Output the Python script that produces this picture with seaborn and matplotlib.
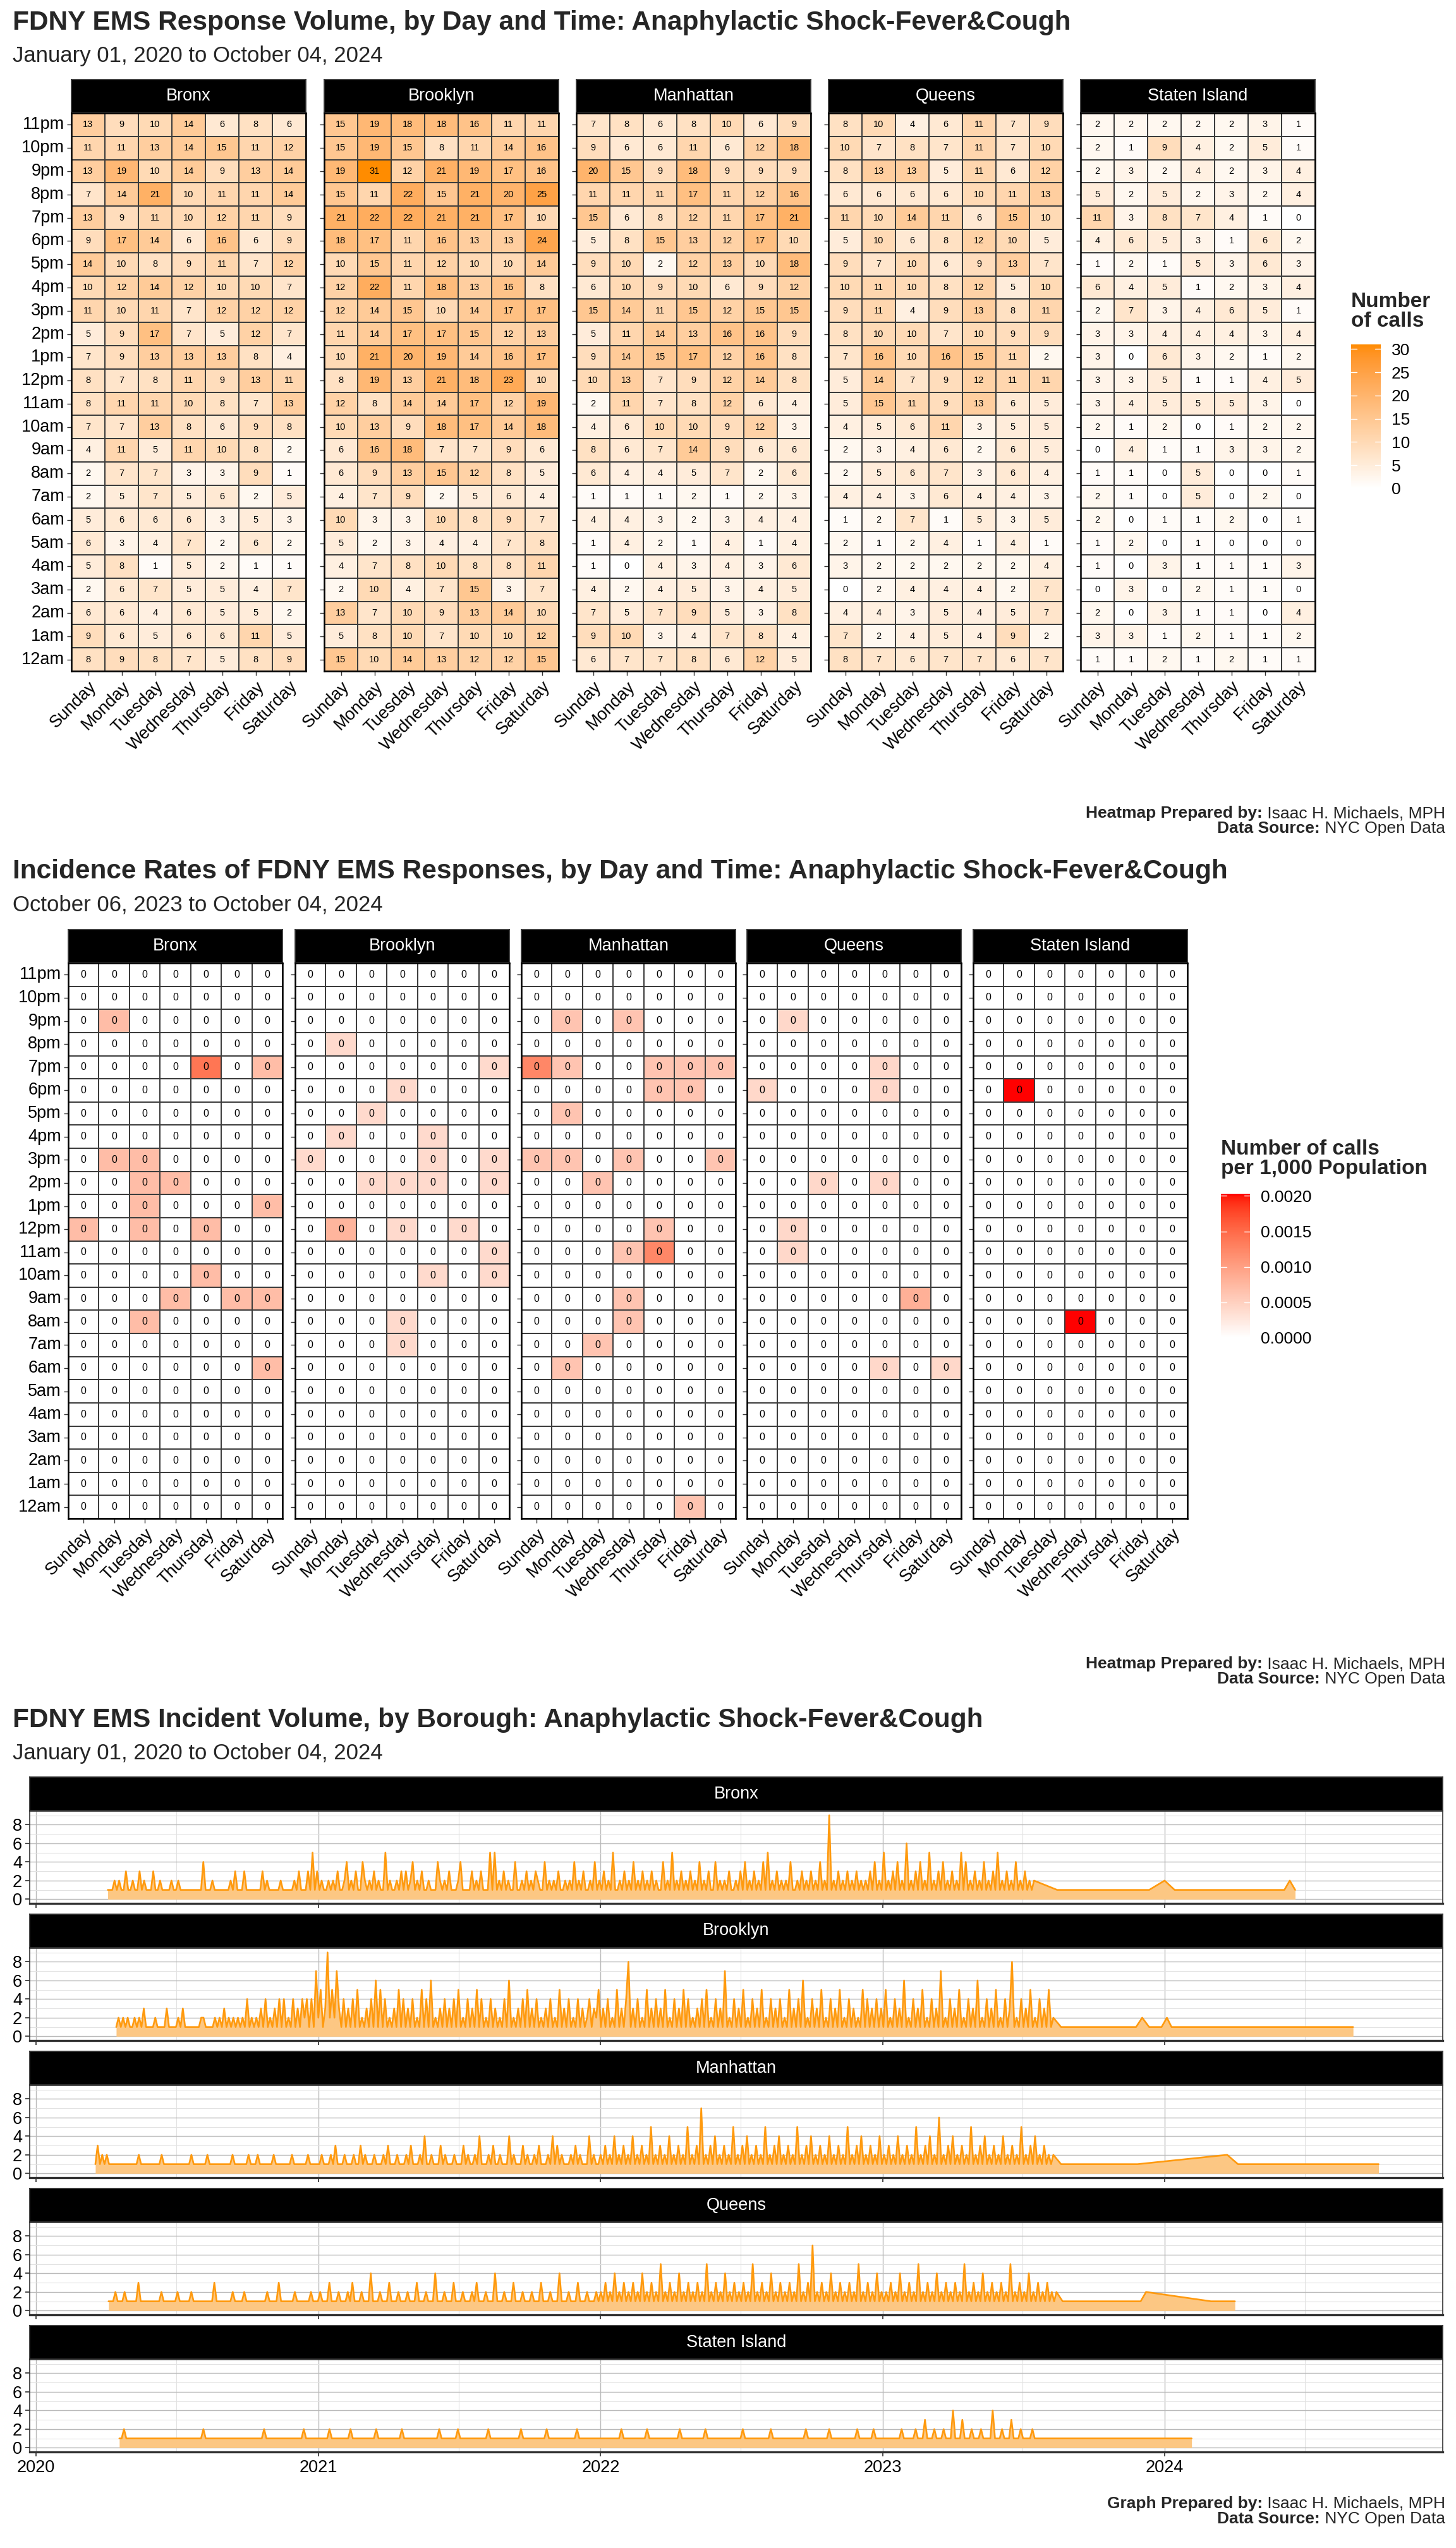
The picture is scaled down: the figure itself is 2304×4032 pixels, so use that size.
import numpy as np
import pandas as pd
import matplotlib
matplotlib.use('Agg')
import matplotlib.pyplot as plt
import matplotlib.dates as mdates
import seaborn as sns
from matplotlib.colors import ListedColormap, Normalize
from matplotlib.cm import ScalarMappable

sns.set_theme(style='white')
plt.rcParams['font.family'] = ['Liberation Sans', 'DejaVu Sans']

W, H = 2304, 4032

BOROUGHS = ['Bronx', 'Brooklyn', 'Manhattan', 'Queens', 'Staten Island']
DAYS = ['Sunday', 'Monday', 'Tuesday', 'Wednesday', 'Thursday', 'Friday', 'Saturday']
HOURS = ['11pm', '10pm', '9pm', '8pm', '7pm', '6pm', '5pm', '4pm', '3pm', '2pm', '1pm', '12pm',
         '11am', '10am', '9am', '8am', '7am', '6am', '5am', '4am', '3am', '2am', '1am', '12am']

# calls, January 01 2020 to October 04 2024 (rows 11pm -> 12am, cols Sunday -> Saturday)
BRONX_CALLS = [
    [13, 9, 10, 14, 6, 8, 6], [11, 11, 13, 14, 15, 11, 12], [13, 19, 10, 14, 9, 13, 14],
    [7, 14, 21, 10, 11, 11, 14], [13, 9, 11, 10, 12, 11, 9], [9, 17, 14, 6, 16, 6, 9],
    [14, 10, 8, 9, 11, 7, 12], [10, 12, 14, 12, 10, 10, 7], [11, 10, 11, 7, 12, 12, 12],
    [5, 9, 17, 7, 5, 12, 7], [7, 9, 13, 13, 13, 8, 4], [8, 7, 8, 11, 9, 13, 11],
    [8, 11, 11, 10, 8, 7, 13], [7, 7, 13, 8, 6, 9, 8], [4, 11, 5, 11, 10, 8, 2],
    [2, 7, 7, 3, 3, 9, 1], [2, 5, 7, 5, 6, 2, 5], [5, 6, 6, 6, 3, 5, 3],
    [6, 3, 4, 7, 2, 6, 2], [5, 8, 1, 5, 2, 1, 1], [2, 6, 7, 5, 5, 4, 7],
    [6, 6, 4, 6, 5, 5, 2], [9, 6, 5, 6, 6, 11, 5], [8, 9, 8, 7, 5, 8, 9]]
BROOKLYN_CALLS = [
    [15, 19, 18, 18, 16, 11, 11], [15, 19, 15, 8, 11, 14, 16], [19, 31, 12, 21, 19, 17, 16],
    [15, 11, 22, 15, 21, 20, 25], [21, 22, 22, 21, 21, 17, 10], [18, 17, 11, 16, 13, 13, 24],
    [10, 15, 11, 12, 10, 10, 14], [12, 22, 11, 18, 13, 16, 8], [12, 14, 15, 10, 14, 17, 17],
    [11, 14, 17, 17, 15, 12, 13], [10, 21, 20, 19, 14, 16, 17], [8, 19, 13, 21, 18, 23, 10],
    [12, 8, 14, 14, 17, 12, 19], [10, 13, 9, 18, 17, 14, 18], [6, 16, 18, 7, 7, 9, 6],
    [6, 9, 13, 15, 12, 8, 5], [4, 7, 9, 2, 5, 6, 4], [10, 3, 3, 10, 8, 9, 7],
    [5, 2, 3, 4, 4, 7, 8], [4, 7, 8, 10, 8, 8, 11], [2, 10, 4, 7, 15, 3, 7],
    [13, 7, 10, 9, 13, 14, 10], [5, 8, 10, 7, 10, 10, 12], [15, 10, 14, 13, 12, 12, 15]]
MANHATTAN_CALLS = [
    [7, 8, 6, 8, 10, 6, 9], [9, 6, 6, 11, 6, 12, 18], [20, 15, 9, 18, 9, 9, 9],
    [11, 11, 11, 17, 11, 12, 16], [15, 6, 8, 12, 11, 17, 21], [5, 8, 15, 13, 12, 17, 10],
    [9, 10, 2, 12, 13, 10, 18], [6, 10, 9, 10, 6, 9, 12], [15, 14, 11, 15, 12, 15, 15],
    [5, 11, 14, 13, 16, 16, 9], [9, 14, 15, 17, 12, 16, 8], [10, 13, 7, 9, 12, 14, 8],
    [2, 11, 7, 8, 12, 6, 4], [4, 6, 10, 10, 9, 12, 3], [8, 6, 7, 14, 9, 6, 6],
    [6, 4, 4, 5, 7, 2, 6], [1, 1, 1, 2, 1, 2, 3], [4, 4, 3, 2, 3, 4, 4],
    [1, 4, 2, 1, 4, 1, 4], [1, 0, 4, 3, 4, 3, 6], [4, 2, 4, 5, 3, 4, 5],
    [7, 5, 7, 9, 5, 3, 8], [9, 10, 3, 4, 7, 8, 4], [6, 7, 7, 8, 6, 12, 5]]
QUEENS_CALLS = [
    [8, 10, 4, 6, 11, 7, 9], [10, 7, 8, 7, 11, 7, 10], [8, 13, 13, 5, 11, 6, 12],
    [6, 6, 6, 6, 10, 11, 13], [11, 10, 14, 11, 6, 15, 10], [5, 10, 6, 8, 12, 10, 5],
    [9, 7, 10, 6, 9, 13, 7], [10, 11, 10, 8, 12, 5, 10], [9, 11, 4, 9, 13, 8, 11],
    [8, 10, 10, 7, 10, 9, 9], [7, 16, 10, 16, 15, 11, 2], [5, 14, 7, 9, 12, 11, 11],
    [5, 15, 11, 9, 13, 6, 5], [4, 5, 6, 11, 3, 5, 5], [2, 3, 4, 6, 2, 6, 5],
    [2, 5, 6, 7, 3, 6, 4], [4, 4, 3, 6, 4, 4, 3], [1, 2, 7, 1, 5, 3, 5],
    [2, 1, 2, 4, 1, 4, 1], [3, 2, 2, 2, 2, 2, 4], [0, 2, 4, 4, 4, 2, 7],
    [4, 4, 3, 5, 4, 5, 7], [7, 2, 4, 5, 4, 9, 2], [8, 7, 6, 7, 7, 6, 7]]
STATEN_CALLS = [
    [2, 2, 2, 2, 2, 3, 1], [2, 1, 9, 4, 2, 5, 1], [2, 3, 2, 4, 2, 3, 4],
    [5, 2, 5, 2, 3, 2, 4], [11, 3, 8, 7, 4, 1, 0], [4, 6, 5, 3, 1, 6, 2],
    [1, 2, 1, 5, 3, 6, 3], [6, 4, 5, 1, 2, 3, 4], [2, 7, 3, 4, 6, 5, 1],
    [3, 3, 4, 4, 4, 3, 4], [3, 0, 6, 3, 2, 1, 2], [3, 3, 5, 1, 1, 4, 5],
    [3, 4, 5, 5, 5, 3, 0], [2, 1, 2, 0, 1, 2, 2], [0, 4, 1, 1, 3, 3, 2],
    [1, 1, 0, 5, 0, 0, 1], [2, 1, 0, 5, 0, 2, 0], [2, 0, 1, 1, 2, 0, 1],
    [1, 2, 0, 1, 0, 0, 0], [1, 0, 3, 1, 1, 1, 3], [0, 3, 0, 2, 1, 1, 0],
    [2, 0, 3, 1, 1, 0, 4], [3, 3, 1, 2, 1, 1, 2], [1, 1, 2, 1, 2, 1, 1]]

# calls per 1,000 population, October 06 2023 to October 04 2024 (non-zero cells only)
BRONX_RATES = [('9pm', 'Monday', 0.0007), ('7pm', 'Thursday', 0.0014), ('7pm', 'Saturday', 0.0007),
               ('3pm', 'Monday', 0.0007), ('3pm', 'Tuesday', 0.0007), ('2pm', 'Tuesday', 0.0007),
               ('2pm', 'Wednesday', 0.0007), ('1pm', 'Tuesday', 0.0007), ('1pm', 'Saturday', 0.0007),
               ('12pm', 'Sunday', 0.0007), ('12pm', 'Tuesday', 0.0007), ('12pm', 'Thursday', 0.0007),
               ('10am', 'Thursday', 0.0007), ('9am', 'Wednesday', 0.0007), ('9am', 'Friday', 0.0007),
               ('9am', 'Saturday', 0.0007), ('8am', 'Tuesday', 0.0007), ('6am', 'Saturday', 0.0007)]
BROOKLYN_RATES = [('8pm', 'Monday', 0.00039), ('7pm', 'Saturday', 0.00039), ('6pm', 'Wednesday', 0.00039),
                  ('5pm', 'Tuesday', 0.00039), ('4pm', 'Monday', 0.00039), ('4pm', 'Thursday', 0.00039),
                  ('3pm', 'Sunday', 0.00039), ('3pm', 'Thursday', 0.00039), ('3pm', 'Saturday', 0.00039),
                  ('2pm', 'Tuesday', 0.00039), ('2pm', 'Wednesday', 0.00039), ('2pm', 'Thursday', 0.00039),
                  ('2pm', 'Saturday', 0.00039), ('12pm', 'Monday', 0.00078), ('12pm', 'Wednesday', 0.00039),
                  ('12pm', 'Friday', 0.00039), ('11am', 'Saturday', 0.00039), ('10am', 'Thursday', 0.00039),
                  ('10am', 'Saturday', 0.00039), ('8am', 'Wednesday', 0.00039), ('7am', 'Wednesday', 0.00039)]
MANHATTAN_RATES = [('9pm', 'Monday', 0.00062), ('9pm', 'Wednesday', 0.00062), ('7pm', 'Sunday', 0.00124),
                   ('7pm', 'Monday', 0.00062), ('7pm', 'Thursday', 0.00062), ('7pm', 'Friday', 0.00062),
                   ('7pm', 'Saturday', 0.00062), ('6pm', 'Thursday', 0.00062), ('6pm', 'Friday', 0.00062),
                   ('5pm', 'Monday', 0.00062), ('3pm', 'Sunday', 0.00062), ('3pm', 'Monday', 0.00062),
                   ('3pm', 'Wednesday', 0.00062), ('3pm', 'Saturday', 0.00062), ('2pm', 'Tuesday', 0.00062),
                   ('12pm', 'Thursday', 0.00062), ('11am', 'Wednesday', 0.00062), ('11am', 'Thursday', 0.00124),
                   ('9am', 'Wednesday', 0.00062), ('8am', 'Wednesday', 0.00062), ('7am', 'Tuesday', 0.00062),
                   ('6am', 'Monday', 0.00062), ('12am', 'Friday', 0.00062)]
QUEENS_RATES = [('9pm', 'Monday', 0.00042), ('7pm', 'Thursday', 0.00042), ('6pm', 'Sunday', 0.00042),
                ('6pm', 'Thursday', 0.00042), ('2pm', 'Tuesday', 0.00042), ('2pm', 'Thursday', 0.00042),
                ('12pm', 'Monday', 0.00042), ('11am', 'Monday', 0.00042), ('9am', 'Friday', 0.00084),
                ('6am', 'Thursday', 0.00042), ('6am', 'Saturday', 0.00042)]
STATEN_RATES = [('6pm', 'Monday', 0.00203), ('8am', 'Wednesday', 0.00203)]

# daily incident volume, one digit per reading, spread from start to end date, then sparse later points
BRONX_SPAN = ('2020-04-03', '2023-07-16')
BRONX_DAILY = ("11121211311211312111311211112112111111111141112111111121311131111111312111112111112131113"
               "15131211212131124121311421213121151211213131241213112111421213111241111312131115151213121141121312132114121213112121412131"
               "12141213121511213121412131213121141215121312131214121311412121311213141213121415121312121411213121312141219121312131213121"
               "213141215121314121612131412151213141213121514121312141213151213121412131212")
BRONX_LATE = [('2023-08-15', 1), ('2023-12-12', 1), ('2024-01-01', 2), ('2024-01-14', 1),
              ('2024-06-04', 1), ('2024-06-11', 2), ('2024-06-18', 1)]

BROOKLYN_SPAN = ('2020-04-14', '2023-08-10')
BROOKLYN_DAILY = ("1212121121213111121111311112131111111221111212131212121214121213141213141412141314"
                  "2414172513925273141314151213141615141213151413141215141612131413141512141315141214131214161213141513141213141215131412141312"
                  "4132513141215131481314121513141315121413151412131415121413171214131512141315121413141215131416121413151214131512141312151413"
                  "1413151214131612141315121413171214131512141316121413151214138121413151214131512")
BROOKLYN_LATE = [('2023-08-20', 1), ('2023-11-25', 1), ('2023-12-03', 2), ('2023-12-12', 1),
                 ('2023-12-28', 1), ('2024-01-04', 2), ('2024-01-10', 1), ('2024-09-01', 1)]

MANHATTAN_SPAN = ('2020-03-18', '2023-08-10')
MANHATTAN_DAILY = ("1312121111111111111211111111121111111111112111111211111111112111111211121111112111111121111112111"
                   "1121112131112111211312111211121311121112131112141121113121112111312112141112131121114121113121121311121413121112131211141211"
                   "2131214121312141213121512131214121312151213171213141213121512131412131215121314121312151213141213121412131215121314121312141"
                   "213121412131215121314121612131412131215121314121312141213121512131412131212")
MANHATTAN_LATE = [('2023-08-20', 1), ('2023-11-27', 1), ('2024-03-22', 2), ('2024-04-05', 1),
                  ('2024-10-04', 1)]

QUEENS_SPAN = ('2020-04-04', '2023-08-14')
QUEENS_DAILY = ("111211121111131111111112111111211111211111111131111111211112111111111211113111111211111121"
                "1121113111211121311121114111211131112111211131112111411121113111211121311121114111211131112111211131112111411121113111211121"
                "2131214121312131214121312151213121412131213121512131214121312131215121312141213121312151213171213121412131213121512131214121"
                "213121412131215121312141213121312151213121412131213121512131214121312131212")
QUEENS_LATE = [('2023-08-22', 1), ('2023-12-01', 1), ('2023-12-08', 2), ('2024-03-01', 1), ('2024-04-01', 1)]

STATEN_SPAN = ('2020-04-18', '2023-08-01')
STATEN_DAILY = ("1121111111111111111111111111111111112111111111111111111111111121111111111111111211111"
                "1111121111111121111111111211111111112111111111111111211111112111111111111211111111111112111111111121111111111112111111111111"
                "1111112111111111121111111111111211111111112111111111111111211111111111211111111111111211111111121111111111121111112111111111"
                "11211111211131112111211141113111211121111411121113111211112111111")
STATEN_LATE = [('2024-02-05', 1)]

TITLE1 = 'FDNY EMS Response Volume, by Day and Time: Anaphylactic Shock-Fever&Cough'
SUB1 = 'January 01, 2020 to October 04, 2024'
TITLE2 = 'Incidence Rates of FDNY EMS Responses, by Day and Time: Anaphylactic Shock-Fever&Cough'
SUB2 = 'October 06, 2023 to October 04, 2024'
TITLE3 = 'FDNY EMS Incident Volume, by Borough: Anaphylactic Shock-Fever&Cough'
SUB3 = 'January 01, 2020 to October 04, 2024'

AXIS_SIZE = 19.5


def srgb_to_lab(rgb):
    c = np.asarray(rgb, float)
    c = np.where(c <= 0.04045, c / 12.92, ((c + 0.055) / 1.055) ** 2.4)
    m = np.array([[0.4124, 0.3576, 0.1805], [0.2126, 0.7152, 0.0722], [0.0193, 0.1192, 0.9505]])
    xyz = m @ c / np.array([0.95047, 1.0, 1.08883])
    f = np.where(xyz > 0.008856, np.cbrt(xyz), 7.787 * xyz + 16 / 116)
    return np.array([116 * f[1] - 16, 500 * (f[0] - f[1]), 200 * (f[1] - f[2])])


def lab_to_srgb(lab):
    fy = (lab[..., 0] + 16) / 116
    fx = fy + lab[..., 1] / 500
    fz = fy - lab[..., 2] / 200
    f = np.stack([fx, fy, fz], -1)
    xyz = np.where(f > 0.2069, f ** 3, (f - 16 / 116) / 7.787) * np.array([0.95047, 1.0, 1.08883])
    m = np.array([[3.2406, -1.5372, -0.4986], [-0.9689, 1.8758, 0.0415], [0.0557, -0.2040, 1.0570]])
    c = np.clip(xyz @ m.T, 0, 1)
    c = np.where(c <= 0.0031308, 12.92 * c, 1.055 * c ** (1 / 2.4) - 0.055)
    return np.clip(c, 0, 1)


def white_to(rgb):
    # ggplot-style gradient (interpolated in Lab)
    lo, hi = srgb_to_lab([1, 1, 1]), srgb_to_lab(rgb)
    t = np.linspace(0, 1, 256)[:, None]
    return ListedColormap(lab_to_srgb(lo + t * (hi - lo)))


ORANGES = white_to([1.0, 140 / 255, 0.0])
REDS = white_to([1.0, 0.0, 0.0])


def px_axes(fig, x0, y0, x1, y1):
    return fig.add_axes([x0 / W, 1 - y1 / H, (x1 - x0) / W, (y1 - y0) / H])


def strip(fig, x0, y0, x1, y1, label):
    ax = px_axes(fig, x0, y0, x1, y1)
    ax.set_facecolor('black')
    ax.set_xticks([])
    ax.set_yticks([])
    for s in ax.spines.values():
        s.set_color('#333333')
    ax.text(0.5, 0.5, label, color='white', fontsize=19.5, ha='center', va='center', transform=ax.transAxes)


def heat_panels(fig, frames, lefts, width, top, bottom, cmap, vmax, fmt, annot_size):
    for i, (name, df) in enumerate(frames):
        x0 = lefts[i]
        strip(fig, x0, top - 53, x0 + width, top - 1, name)
        ax = px_axes(fig, x0, top, x0 + width, bottom)
        sns.heatmap(df, ax=ax, cmap=cmap, vmin=0, vmax=vmax, annot=True, fmt=fmt,
                    annot_kws={'fontsize': annot_size, 'color': 'black'},
                    linewidths=1.1, linecolor='#3c3c3c', cbar=False)
        ax.set_xlabel('')
        ax.set_ylabel('')
        for s in ax.spines.values():
            s.set_visible(True)
            s.set_color('black')
            s.set_linewidth(1.8)
        ax.tick_params(left=True, bottom=True, length=5, width=1, color='#333333', labelsize=AXIS_SIZE,
                       labelcolor='black', pad=3)
        ax.set_xticklabels(DAYS, rotation=45, ha='right', rotation_mode='anchor')
        if i == 0:
            ax.set_yticklabels(HOURS, rotation=0)
        else:
            ax.set_yticklabels([])


def colorbar(fig, box, cmap, vmax, ticks, fmt, title, title_x, title_y):
    cax = px_axes(fig, *box)
    cb = fig.colorbar(ScalarMappable(norm=Normalize(0, vmax), cmap=cmap), cax=cax)
    cb.outline.set_visible(False)
    cb.set_ticks(ticks)
    cb.set_ticklabels([fmt.format(t) for t in ticks])
    cax.tick_params(length=0, pad=12, labelsize=19, labelcolor='black')
    trans = cax.get_yaxis_transform()
    for t in ticks:
        cax.plot([0, 0.2], [t, t], color='white', lw=1, transform=trans)
        cax.plot([0.8, 1], [t, t], color='white', lw=1, transform=trans)
    fig.text(title_x / W, 1 - title_y / H, title, fontsize=24, fontweight='bold', va='top',
             linespacing=1.0)


def footer(fig, y, who):
    r = fig.canvas.get_renderer()
    right = 2287 / W
    for dy, bold, rest in [(0, who, ' Isaac H. Michaels, MPH'), (24, 'Data Source:', ' NYC Open Data')]:
        t = fig.text(right, 1 - (y + dy) / H, rest, fontsize=19, ha='right', va='center')
        w = t.get_window_extent(r).width / W
        fig.text(right - w, 1 - (y + dy) / H, bold, fontsize=19, fontweight='bold', ha='right', va='center')


def borough_series(span, dense, late):
    calls = [int(c) for c in dense]
    dates = list(pd.date_range(span[0], span[1], periods=len(calls)))
    for d, v in late:
        dates.append(pd.Timestamp(d))
        calls.append(v)
    return pd.DataFrame({'date': dates, 'calls': calls})


fig = plt.figure(figsize=(W / 100, H / 100), dpi=100)
fig.patch.set_facecolor('white')

# ---- heatmap 1: call counts
fig.text(20 / W, 1 - 47 / H, TITLE1, fontsize=30.5, fontweight='bold', va='baseline')
fig.text(20 / W, 1 - 98 / H, SUB1, fontsize=25, va='baseline')
counts = [BRONX_CALLS, BROOKLYN_CALLS, MANHATTAN_CALLS, QUEENS_CALLS, STATEN_CALLS]
frames1 = [(b, pd.DataFrame(c, index=HOURS, columns=DAYS)) for b, c in zip(BOROUGHS, counts)]
heat_panels(fig, frames1, [113, 513, 912, 1311, 1710], 371, 179, 1062, ORANGES, 31, 'd', 10.5)
colorbar(fig, (2138, 545, 2185, 773), ORANGES, 31, [0, 5, 10, 15, 20, 25, 30], '{:d}',
         'Number\nof calls', 2138, 462)
footer(fig, 1287, 'Heatmap Prepared by:')

# ---- heatmap 2: rates per 1,000 population
fig.text(20 / W, 1 - 1390 / H, TITLE2, fontsize=30.5, fontweight='bold', va='baseline')
fig.text(20 / W, 1 - 1441 / H, SUB2, fontsize=25, va='baseline')
frames2 = []
for b, cells in zip(BOROUGHS, [BRONX_RATES, BROOKLYN_RATES, MANHATTAN_RATES, QUEENS_RATES, STATEN_RATES]):
    df = pd.DataFrame(0.0, index=HOURS, columns=DAYS)
    for hr, day, v in cells:
        df.loc[hr, day] = v
    frames2.append((b, df))
heat_panels(fig, frames2, [108, 467, 825, 1182, 1540], 339, 1524, 2403, REDS, 0.00203, '.0f', 11.5)
colorbar(fig, (1932, 1889, 1978, 2117), REDS, 0.00203, [0, 0.0005, 0.001, 0.0015, 0.002], '{:.4f}',
         'Number of calls\nper 1,000 Population', 1932, 1803)
footer(fig, 2633, 'Heatmap Prepared by:')

# ---- time series
fig.text(20 / W, 1 - 2733 / H, TITLE3, fontsize=30.5, fontweight='bold', va='baseline')
fig.text(20 / W, 1 - 2784 / H, SUB3, fontsize=25, va='baseline')
series = [(BRONX_SPAN, BRONX_DAILY, BRONX_LATE), (BROOKLYN_SPAN, BROOKLYN_DAILY, BROOKLYN_LATE),
          (MANHATTAN_SPAN, MANHATTAN_DAILY, MANHATTAN_LATE), (QUEENS_SPAN, QUEENS_DAILY, QUEENS_LATE),
          (STATEN_SPAN, STATEN_DAILY, STATEN_LATE)]
for i, (b, (span, dense, late)) in enumerate(zip(BOROUGHS, series)):
    top = 2812 + i * 217
    strip(fig, 47, top, 2283, top + 53, b)
    ax = px_axes(fig, 47, top + 54, 2283, top + 200)
    df = borough_series(span, dense, late)
    ax.fill_between(df['date'], df['calls'], color='#FCC783', lw=0)
    sns.lineplot(data=df, x='date', y='calls', ax=ax, color='#FF9A0E', linewidth=1.9, estimator=None)
    ax.set_xlim(pd.Timestamp('2019-12-24'), pd.Timestamp('2024-12-26'))
    ax.set_ylim(-0.45, 9.45)
    ax.set_yticks([0, 2, 4, 6, 8])
    ax.set_yticks([1, 3, 5, 7, 9], minor=True)
    ax.xaxis.set_major_locator(mdates.YearLocator())
    ax.xaxis.set_minor_locator(mdates.MonthLocator(bymonth=7))
    ax.xaxis.set_major_formatter(mdates.DateFormatter('%Y'))
    ax.set_axisbelow(True)
    ax.grid(True, which='major', color='#b9b9b9', lw=1.0)
    ax.grid(True, which='minor', color='#e2e2e2', lw=0.8)
    ax.set_xlabel('')
    ax.set_ylabel('')
    for s in ax.spines.values():
        s.set_visible(True)
        s.set_color('#333333')
        s.set_linewidth(1.2)
    ax.spines['bottom'].set_linewidth(2.4)
    ax.tick_params(which='major', left=True, bottom=True, length=5, color='#333333', labelsize=AXIS_SIZE,
                   labelcolor='black')
    ax.tick_params(which='minor', left=False, bottom=False)
    if i < 4:
        ax.tick_params(labelbottom=False)
footer(fig, 3962, 'Graph Prepared by:')

fig.savefig('out.png', dpi=100, facecolor='white')
